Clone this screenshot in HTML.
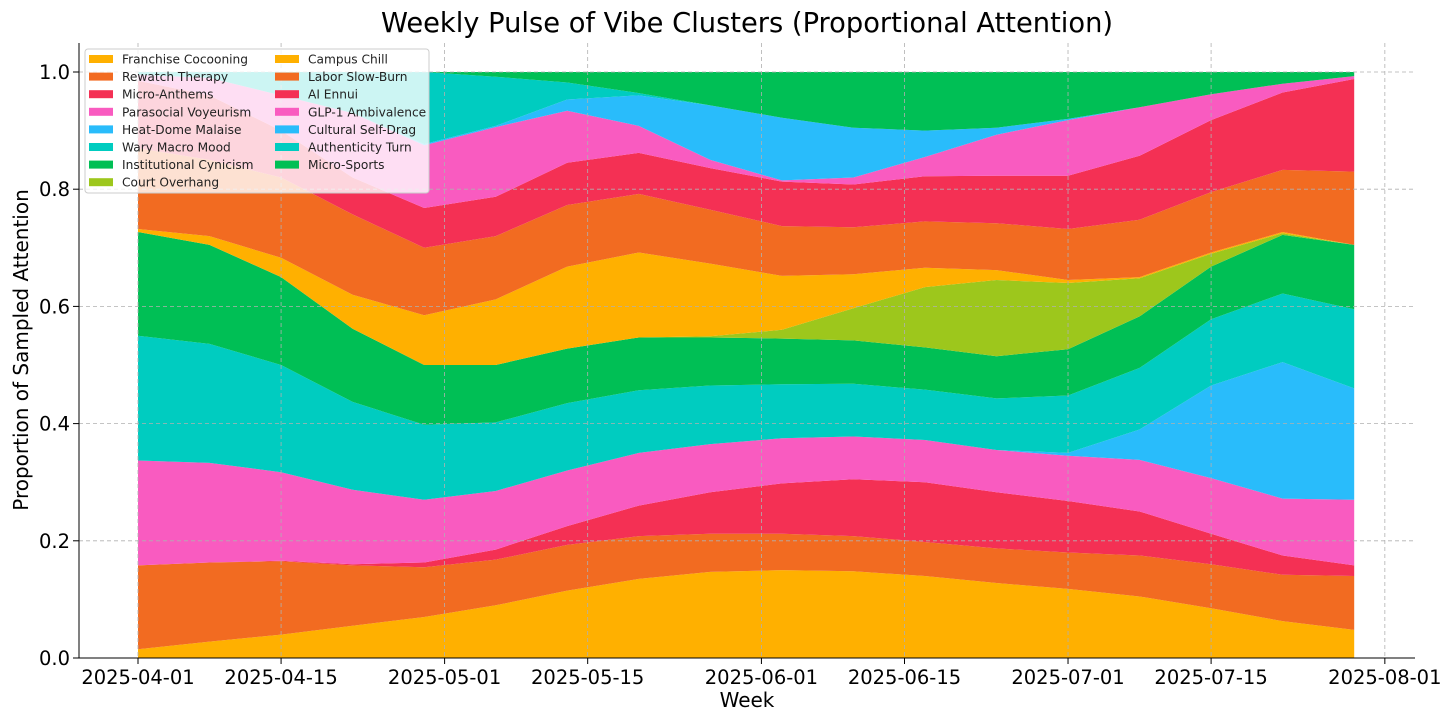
<!DOCTYPE html>
<html><head><meta charset="utf-8"><style>
body{margin:0;background:#fff;}
svg{display:block;font-family:"DejaVu Sans","Liberation Sans",sans-serif;}
</style></head><body>
<svg id="c" width="1456" height="724"></svg>
<script>
const weeks=["2025-04-01","2025-04-08","2025-04-15","2025-04-22","2025-04-29","2025-05-06","2025-05-13","2025-05-20","2025-05-27","2025-06-03","2025-06-10","2025-06-17","2025-06-24","2025-07-01","2025-07-08","2025-07-15","2025-07-22","2025-07-29"];
const seriesNames=["Franchise Cocooning","Rewatch Therapy","Micro-Anthems","Parasocial Voyeurism","Heat-Dome Malaise","Wary Macro Mood","Institutional Cynicism","Court Overhang","Campus Chill","Labor Slow-Burn","AI Ennui","GLP-1 Ambivalence","Cultural Self-Drag","Authenticity Turn","Micro-Sports"];
const franchise=[.015,.028,.04,.055,.07,.09,.115,.135,.147,.15,.148,.14,.128,.118,.105,.085,.063,.048];
const rewatch=[.143,.135,.125,.103,.085,.078,.078,.073,.065,.062,.06,.058,.059,.062,.07,.075,.079,.092];
const microAnthems=[0,0,.001,.002,.008,.017,.032,.052,.071,.086,.097,.102,.096,.088,.075,.052,.033,.018];
const parasocial=[.179,.17,.151,.127,.107,.1,.095,.09,.082,.077,.073,.072,.072,.077,.088,.095,.097,.112];
const heatDome=[0,0,0,0,0,0,0,0,0,0,0,0,0,.005,.052,.158,.233,.19];
const waryMacro=[.213,.203,.183,.15,.128,.117,.115,.107,.1,.092,.09,.086,.088,.098,.105,.113,.117,.135];
const institutional=[.177,.169,.15,.125,.102,.098,.093,.09,.082,.078,.074,.072,.072,.079,.088,.09,.1,.11];
const courtOverhang=[0,0,0,0,0,0,0,0,.002,.015,.055,.103,.13,.113,.065,.022,.003,0];
const campusChill=[.005,.015,.033,.058,.085,.112,.14,.145,.124,.092,.058,.033,.017,.005,.002,.002,.002,0];
const laborSlowBurn=[.138,.13,.137,.137,.115,.108,.105,.1,.092,.085,.08,.079,.08,.087,.098,.103,.106,.125];
const aiEnnui=[.115,.11,.08,.063,.068,.067,.072,.07,.071,.076,.073,.077,.081,.091,.109,.123,.132,.158];
const glp1=[.01,.03,.06,.11,.107,.119,.089,.046,.014,.002,.012,.033,.07,.095,.083,.044,.015,.005];
const culturalSelfDrag=[0,0,0,0,.002,.002,.019,.052,.093,.107,.085,.045,.012,.002,0,0,0,0];
const authenticity=[.005,.01,.04,.07,.123,.084,.029,.004,0,0,0,0,0,0,0,0,0,0];
const microSports=[0,0,0,0,0,.008,.018,.036,.057,.078,.095,.1,.095,.08,.06,.038,.02,.007];
const xTickLabels=["2025-04-01","2025-04-15","2025-05-01","2025-05-15","2025-06-01","2025-06-15","2025-07-01","2025-07-15","2025-08-01"];
const yTicks=[0,0.2,0.4,0.6,0.8,1.0];

const values=[franchise,rewatch,microAnthems,parasocial,heatDome,waryMacro,institutional,courtOverhang,campusChill,laborSlowBurn,aiEnnui,glp1,culturalSelfDrag,authenticity,microSports];
const palette=["#FFB000","#F26B21","#F43054","#F95BC0","#29BCFB","#00CCC0","#00BF55","#9DC71C"];
const NS="http://www.w3.org/2000/svg";
const svg=document.getElementById('c');
const L=79,R=1415,T=43,B=658;
const t0=Date.parse("2025-04-01");
function X(d){return 138+(Date.parse(d)-t0)/86400000*10.22;}
function Y(v){return 658-v*586;}
function el(tag,attrs,parent){const e=document.createElementNS(NS,tag);for(const k in attrs)e.setAttribute(k,attrs[k]);(parent||svg).appendChild(e);return e;}
function slug(s){return s.toLowerCase().replace(/[^a-z0-9]+/g,'-').replace(/-$/,'');}

let base=weeks.map(()=>0);
values.forEach((arr,si)=>{
  const top=base.map((b,i)=>b+arr[i]);
  let d="M"+weeks.map((w,i)=>X(w).toFixed(1)+","+Y(top[i]).toFixed(1)).join("L");
  for(let i=weeks.length-1;i>=0;i--)d+="L"+X(weeks[i]).toFixed(1)+","+Y(base[i]).toFixed(1);
  d+="Z";
  const p=el('path',{d:d,fill:palette[si%8]});
  
  
  base=top;
});
const g=el('g',{stroke:"#b0b0b0","stroke-width":0.8,"stroke-dasharray":"4,3"});


xTickLabels.forEach(d=>el('line',{x1:X(d),x2:X(d),y1:T,y2:B},g));
yTicks.forEach(v=>el('line',{x1:L,x2:R,y1:Y(v),y2:Y(v)},g));
const ax=el('g',{stroke:"#000","stroke-width":1});


el('line',{x1:L,x2:L,y1:T,y2:B},ax);
el('line',{x1:L,x2:R,y1:B,y2:B},ax);
xTickLabels.forEach(d=>{
  el('line',{x1:X(d),x2:X(d),y1:B,y2:B+6},ax);
  const t=el('text',{x:X(d),y:B+26,"text-anchor":"middle","font-size":19.5,fill:"#000",stroke:"none"});
  t.textContent=d;
  
  
});
yTicks.forEach(v=>{
  el('line',{x1:L-6,x2:L,y1:Y(v),y2:Y(v)},ax);
  const t=el('text',{x:L-9,y:Y(v)+7,"text-anchor":"end","font-size":19.5,fill:"#000",stroke:"none"});
  t.textContent=v.toFixed(1);
  
  
});
let t=el('text',{x:747,y:32,"text-anchor":"middle","font-size":27.3,fill:"#000"});
t.textContent="Weekly Pulse of Vibe Clusters (Proportional Attention)";


t=el('text',{x:747,y:707,"text-anchor":"middle","font-size":20,fill:"#000"});
t.textContent="Week";


t=el('text',{x:28,y:350,"text-anchor":"middle","font-size":20,fill:"#000",transform:"rotate(-90 28 350)"});
t.textContent="Proportion of Sampled Attention";


const lg=el('g',{});


el('rect',{x:85,y:49,width:344,height:144,rx:3,fill:"rgba(255,255,255,0.8)",stroke:"#cccccc","stroke-width":1},lg);
seriesNames.forEach((n,i)=>{
  const col=i<8?0:1,row=i<8?i:i-8;
  const sx=col?275:89, cy=59+row*17.6;
  const e=el('g',{},lg);
  
  
  el('rect',{x:sx,y:cy-4,width:24,height:8,fill:palette[i%8]},e);
  const tx=el('text',{x:sx+33,y:cy+4.5,"font-size":12.2,fill:"#222"},e);
  tx.textContent=n;
});
</script>
</body></html>
